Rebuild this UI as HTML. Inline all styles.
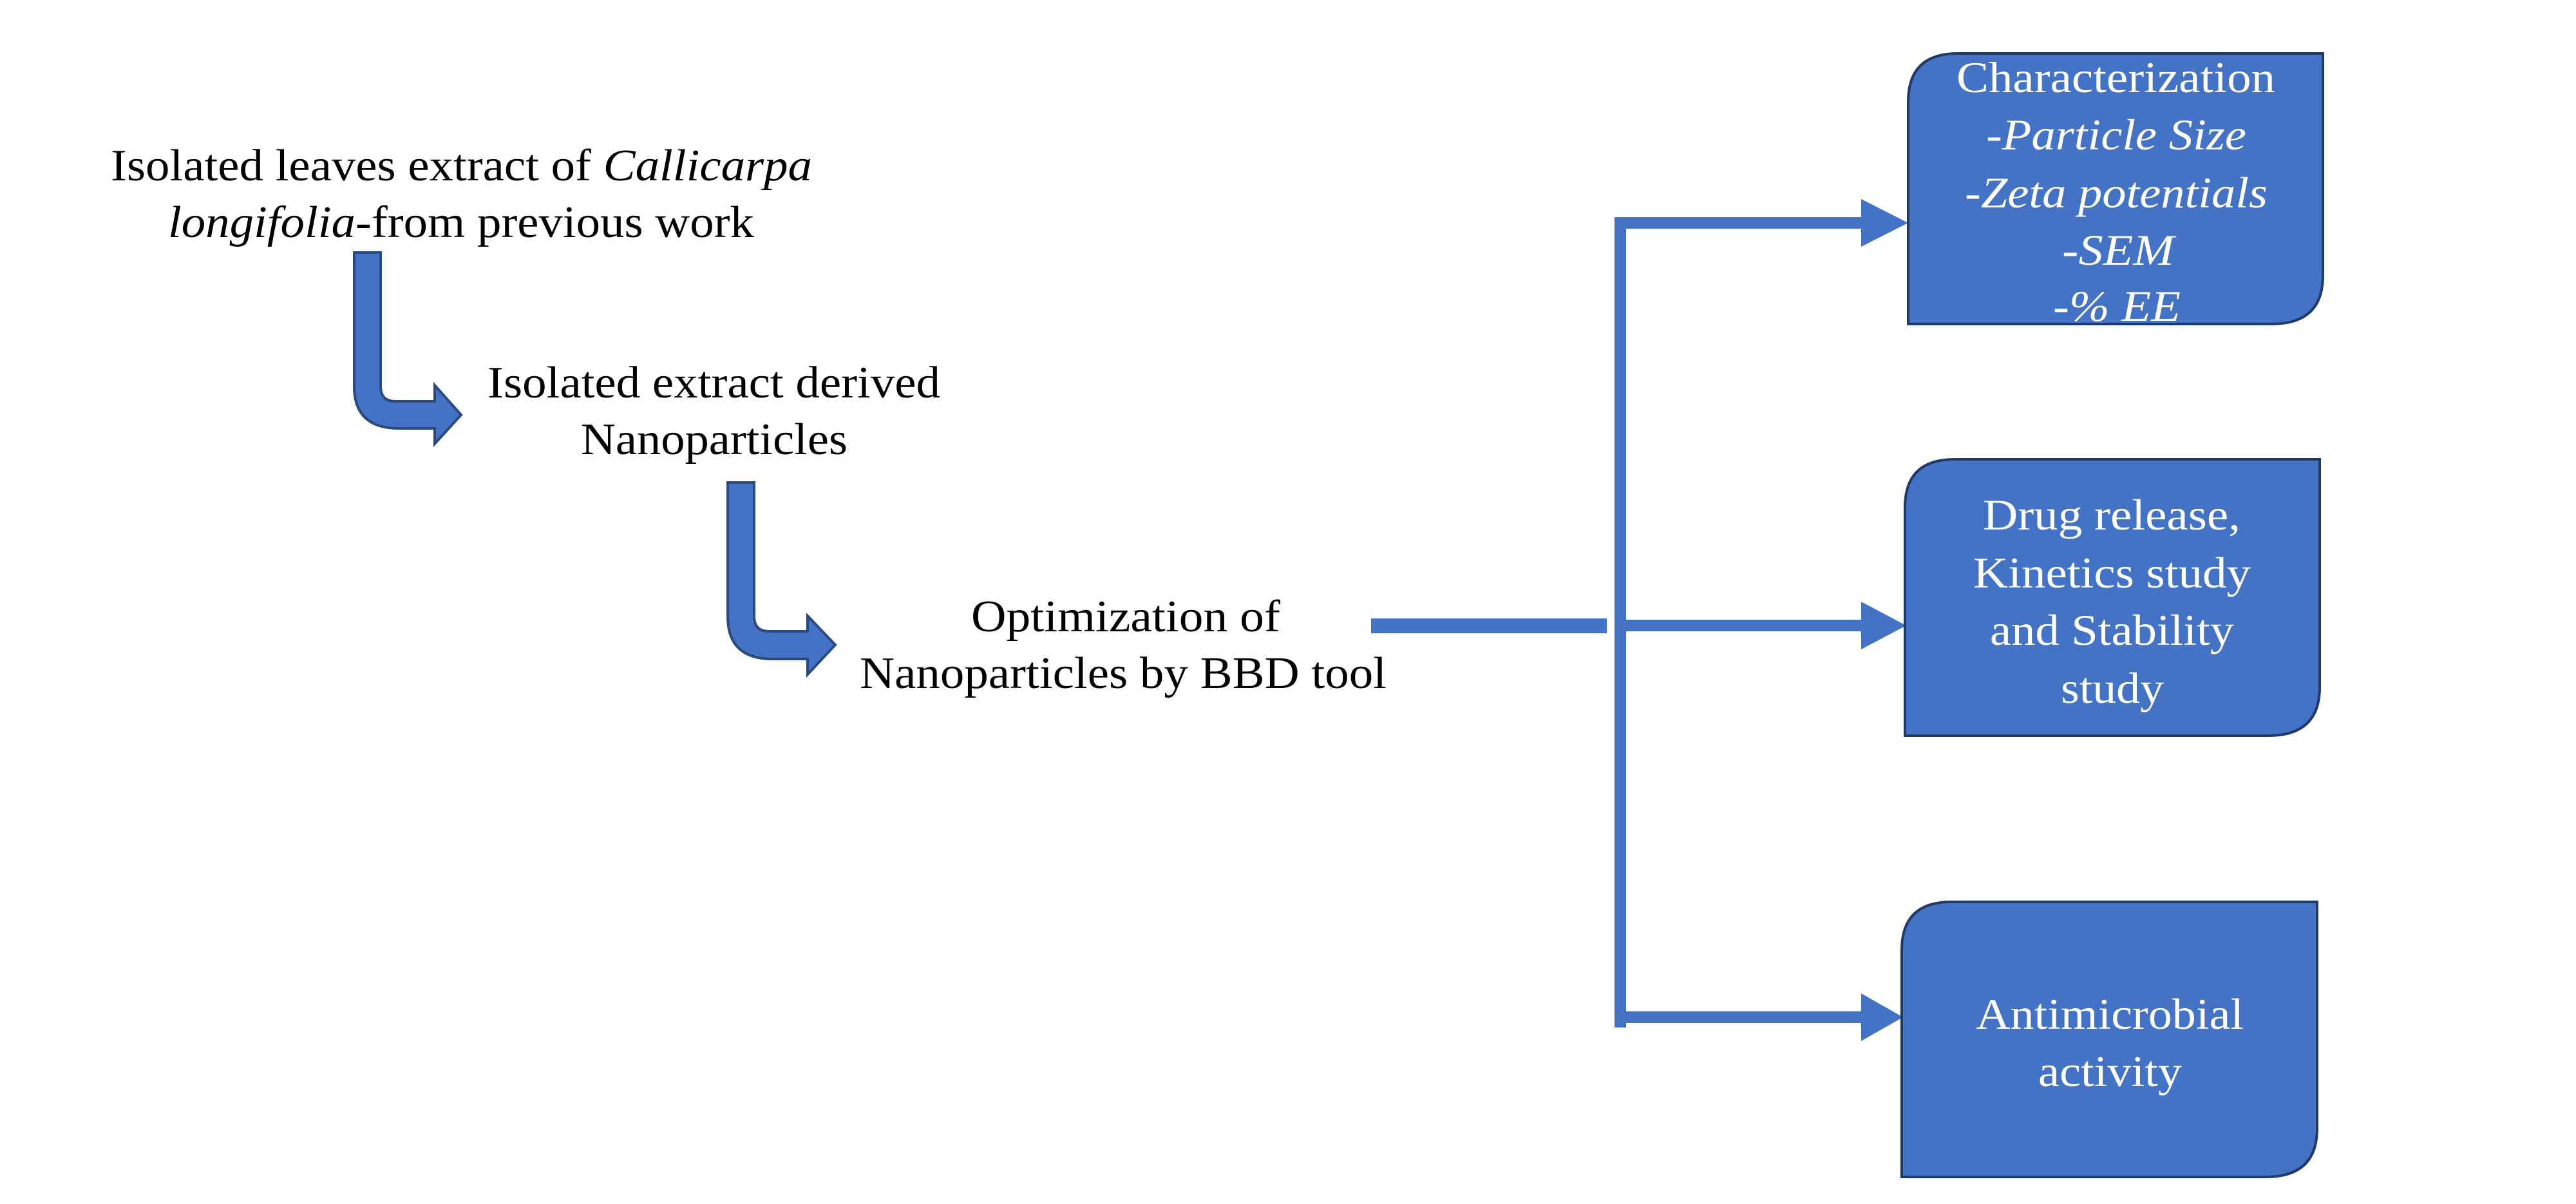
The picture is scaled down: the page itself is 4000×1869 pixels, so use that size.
<!DOCTYPE html>
<html><head><meta charset="utf-8"><style>html,body{margin:0;padding:0;background:#fff}svg{display:block}</style></head>
<body>
<svg width="4000" height="1869" viewBox="0 0 4000 1869" xmlns="http://www.w3.org/2000/svg">
<defs><clipPath id="c1"><rect x="2963" y="60" width="650" height="443"/></clipPath></defs>
<g font-family="Liberation Serif, serif" font-size="70" fill="#000">
<text x="172" y="280" textLength="1089" lengthAdjust="spacingAndGlyphs">Isolated leaves extract of <tspan font-style="italic">Callicarpa</tspan></text>
<text x="261" y="368" textLength="910" lengthAdjust="spacingAndGlyphs"><tspan font-style="italic">longifolia</tspan>-from previous work</text>
<text x="757" y="617" textLength="703" lengthAdjust="spacingAndGlyphs">Isolated extract derived</text>
<text x="902" y="705" textLength="414" lengthAdjust="spacingAndGlyphs">Nanoparticles</text>
<text x="1508" y="980" textLength="480" lengthAdjust="spacingAndGlyphs">Optimization of</text>
<text x="1335" y="1068" textLength="818" lengthAdjust="spacingAndGlyphs">Nanoparticles by BBD tool</text>
</g>
<g fill="#4472C4" stroke="#2A4A7F" stroke-width="4">
<path d="M550,392 L591,392 L591,600 Q591,623 614,623 L675,623 L675,598 L716,644 L675,689 L675,665 L620,665 Q550,665 550,600 Z"/>
<path d="M1130,749 L1171,749 L1171,957 Q1171,980 1194,980 L1254,980 L1254,956 L1297,1001 L1254,1047 L1254,1023 L1200,1023 Q1130,1023 1130,957 Z"/>
</g>
<g fill="#4472C4">
<rect x="2129" y="960" width="366" height="23"/>
<rect x="2507" y="337" width="18" height="1258"/>
<rect x="2507" y="337" width="385" height="18"/>
<polygon points="2890,309 2963,346 2890,383"/>
<rect x="2507" y="962" width="385" height="18"/>
<polygon points="2890,934 2960,971 2890,1008"/>
<rect x="2507" y="1570" width="385" height="18"/>
<polygon points="2890,1542 2955,1579 2890,1616"/>
</g>
<g fill="#4472C4" stroke="#1F3A68" stroke-width="4">
<path d="M3040,83 L3607,83 L3607,428 Q3607,503 3527,503 L2963,503 L2963,158 Q2963,83 3040,83 Z"/>
<path d="M3035,713 L3602,713 L3602,1067 Q3602,1142 3522,1142 L2958,1142 L2958,788 Q2958,713 3035,713 Z"/>
<path d="M3030,1400 L3598,1400 L3598,1752 Q3598,1827 3518,1827 L2953,1827 L2953,1475 Q2953,1400 3030,1400 Z"/>
</g>
<g font-family="Liberation Serif, serif" font-size="68" fill="#fff">
<g clip-path="url(#c1)">
<text x="3038" y="143" textLength="495" lengthAdjust="spacingAndGlyphs">Characterization</text>
<g font-style="italic">
<text x="3084" y="232" textLength="404" lengthAdjust="spacingAndGlyphs">-Particle Size</text>
<text x="3051" y="322" textLength="470" lengthAdjust="spacingAndGlyphs">-Zeta potentials</text>
<text x="3202" y="411" textLength="174" lengthAdjust="spacingAndGlyphs">-SEM</text>
<text x="3188" y="498" textLength="198" lengthAdjust="spacingAndGlyphs">-% EE</text>
</g></g>
<text x="3079" y="822" textLength="400" lengthAdjust="spacingAndGlyphs">Drug release,</text>
<text x="3064" y="912" textLength="431" lengthAdjust="spacingAndGlyphs">Kinetics study</text>
<text x="3090" y="1001" textLength="379" lengthAdjust="spacingAndGlyphs">and Stability</text>
<text x="3200" y="1091" textLength="160" lengthAdjust="spacingAndGlyphs">study</text>
<text x="3068" y="1597" textLength="416" lengthAdjust="spacingAndGlyphs">Antimicrobial</text>
<text x="3165" y="1686" textLength="223" lengthAdjust="spacingAndGlyphs">activity</text>
</g>
</svg>
</body></html>
